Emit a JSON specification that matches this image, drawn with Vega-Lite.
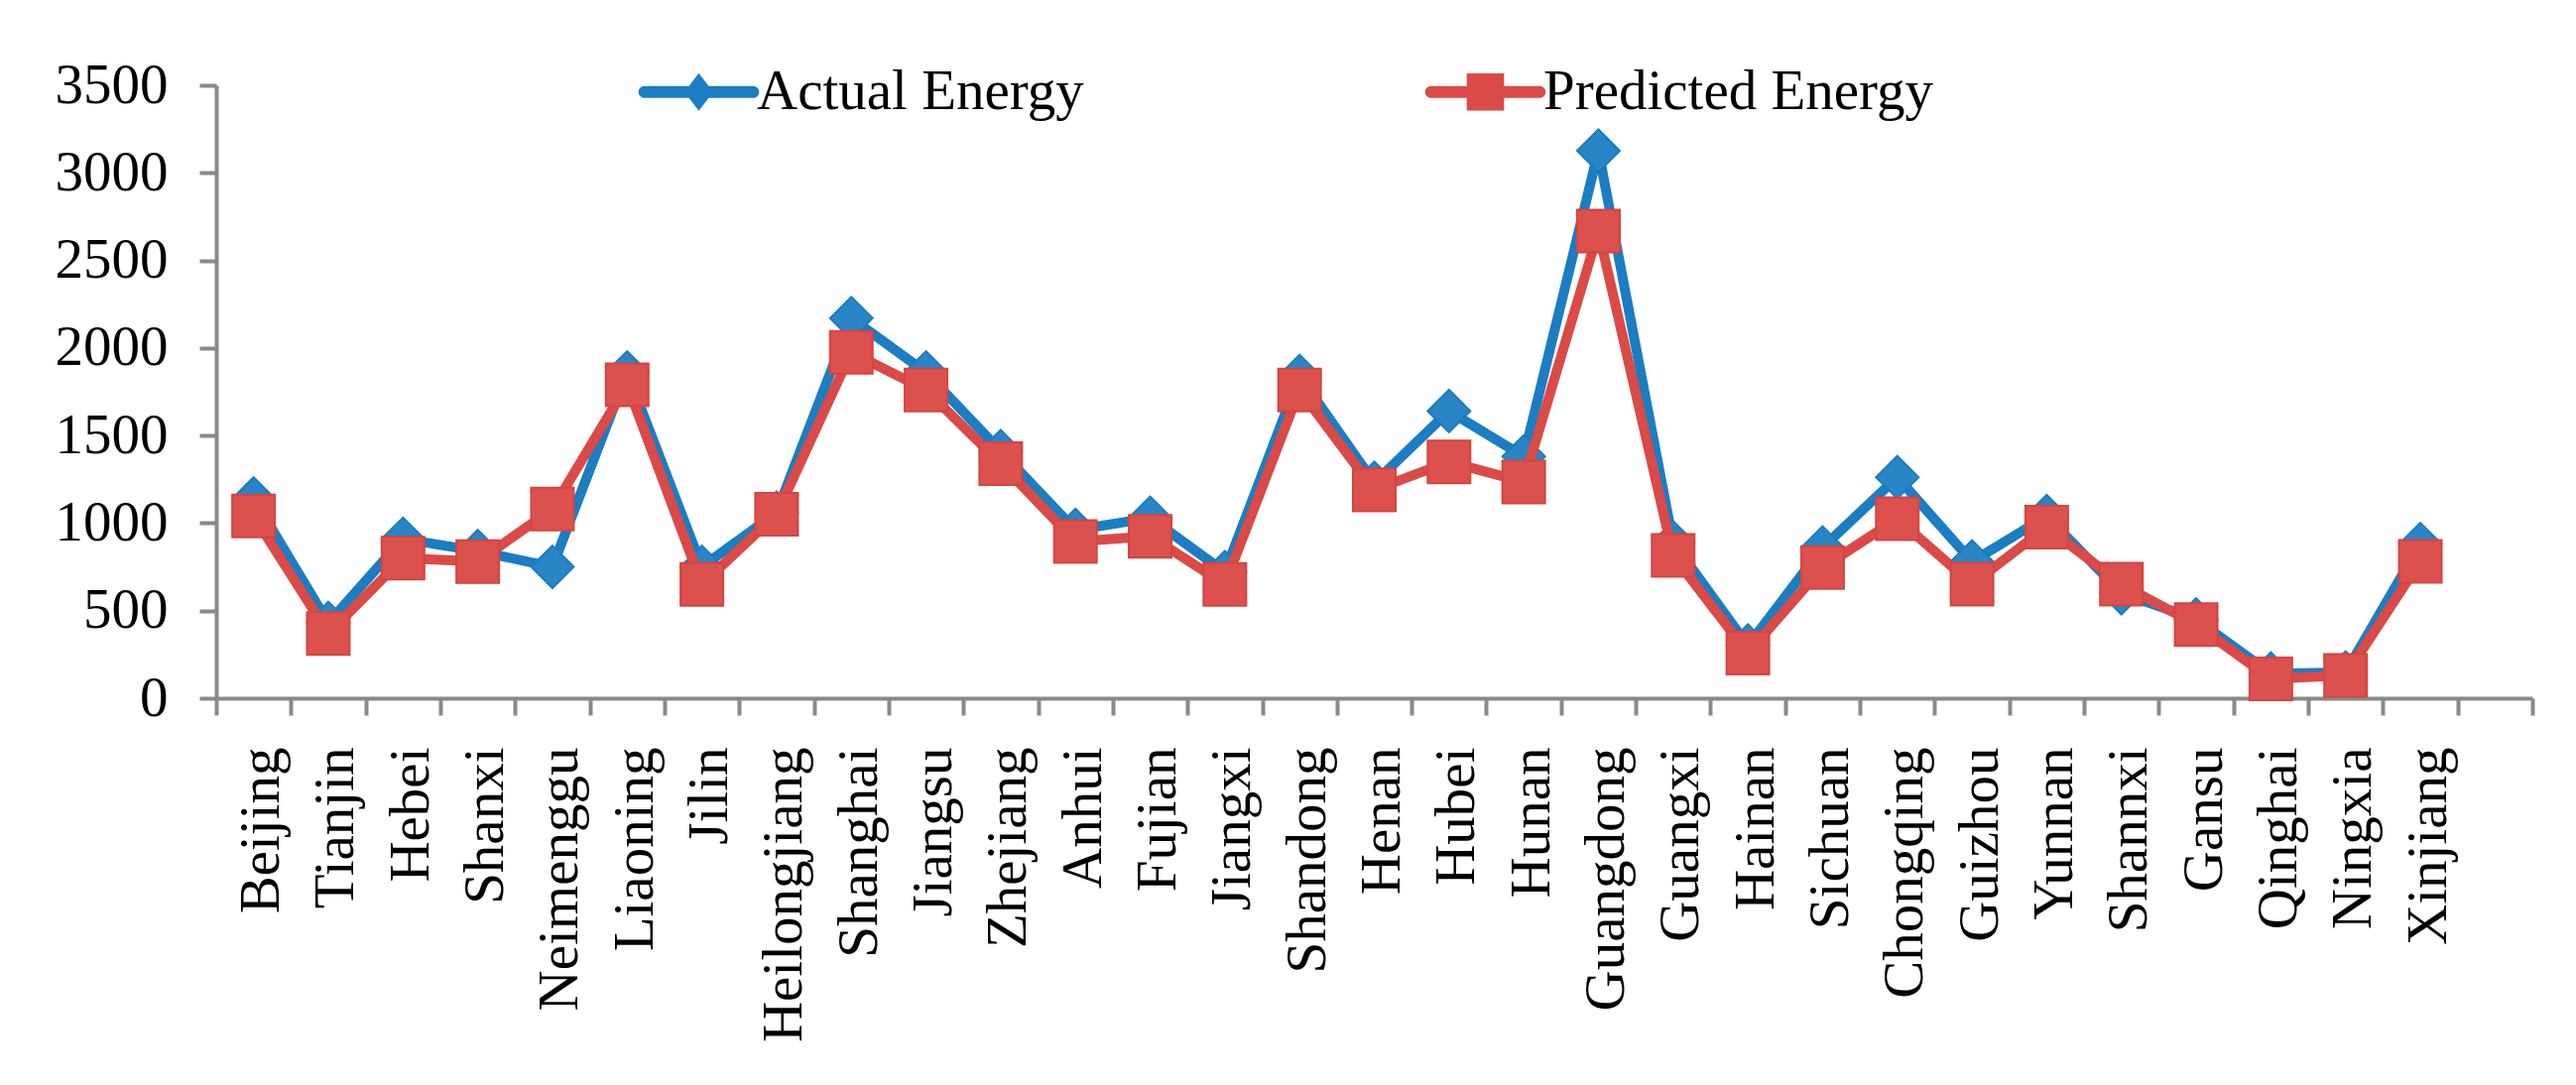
{
  "$schema": "https://vega.github.io/schema/vega-lite/v6.json",
  "width": 2335,
  "height": 618,
  "autosize": "none",
  "padding": {"left": 218, "top": 86, "right": 44, "bottom": 390},
  "background": "white",
  "config": {
    "view": {"stroke": null},
    "font": "Liberation Serif",
    "axis": {
      "labelFont": "Liberation Serif",
      "labelFontSize": 57,
      "labelColor": "#000000",
      "labelLimit": 0,
      "domainColor": "#898989",
      "domainWidth": 4,
      "tickColor": "#898989",
      "tickWidth": 4,
      "tickSize": 17,
      "labelPadding": 32,
      "grid": false,
      "title": null
    }
  },
  "data": {
    "values": [
      {"region": "Beijing", "series": "Actual Energy", "value": 1140},
      {"region": "Tianjin", "series": "Actual Energy", "value": 430},
      {"region": "Hebei", "series": "Actual Energy", "value": 910},
      {"region": "Shanxi", "series": "Actual Energy", "value": 840},
      {"region": "Neimenggu", "series": "Actual Energy", "value": 750},
      {"region": "Liaoning", "series": "Actual Energy", "value": 1860},
      {"region": "Jilin", "series": "Actual Energy", "value": 750},
      {"region": "Heilongjiang", "series": "Actual Energy", "value": 1060},
      {"region": "Shanghai", "series": "Actual Energy", "value": 2170},
      {"region": "Jiangsu", "series": "Actual Energy", "value": 1860},
      {"region": "Zhejiang", "series": "Actual Energy", "value": 1410},
      {"region": "Anhui", "series": "Actual Energy", "value": 960},
      {"region": "Fujian", "series": "Actual Energy", "value": 1030},
      {"region": "Jiangxi", "series": "Actual Energy", "value": 720},
      {"region": "Shandong", "series": "Actual Energy", "value": 1840},
      {"region": "Henan", "series": "Actual Energy", "value": 1230},
      {"region": "Hubei", "series": "Actual Energy", "value": 1640},
      {"region": "Hunan", "series": "Actual Energy", "value": 1380},
      {"region": "Guangdong", "series": "Actual Energy", "value": 3126},
      {"region": "Guangxi", "series": "Actual Energy", "value": 890},
      {"region": "Hainan", "series": "Actual Energy", "value": 300},
      {"region": "Sichuan", "series": "Actual Energy", "value": 860},
      {"region": "Chongqing", "series": "Actual Energy", "value": 1262},
      {"region": "Guizhou", "series": "Actual Energy", "value": 780},
      {"region": "Yunnan", "series": "Actual Energy", "value": 1040},
      {"region": "Shannxi", "series": "Actual Energy", "value": 600},
      {"region": "Gansu", "series": "Actual Energy", "value": 450},
      {"region": "Qinghai", "series": "Actual Energy", "value": 140},
      {"region": "Ningxia", "series": "Actual Energy", "value": 147},
      {"region": "Xinjiang", "series": "Actual Energy", "value": 880},
      {"region": "Beijing", "series": "Predicted Energy", "value": 1040},
      {"region": "Tianjin", "series": "Predicted Energy", "value": 370},
      {"region": "Hebei", "series": "Predicted Energy", "value": 800},
      {"region": "Shanxi", "series": "Predicted Energy", "value": 780},
      {"region": "Neimenggu", "series": "Predicted Energy", "value": 1080},
      {"region": "Liaoning", "series": "Predicted Energy", "value": 1790},
      {"region": "Jilin", "series": "Predicted Energy", "value": 650},
      {"region": "Heilongjiang", "series": "Predicted Energy", "value": 1050},
      {"region": "Shanghai", "series": "Predicted Energy", "value": 1975},
      {"region": "Jiangsu", "series": "Predicted Energy", "value": 1760},
      {"region": "Zhejiang", "series": "Predicted Energy", "value": 1340},
      {"region": "Anhui", "series": "Predicted Energy", "value": 895},
      {"region": "Fujian", "series": "Predicted Energy", "value": 925},
      {"region": "Jiangxi", "series": "Predicted Energy", "value": 650},
      {"region": "Shandong", "series": "Predicted Energy", "value": 1760},
      {"region": "Henan", "series": "Predicted Energy", "value": 1190},
      {"region": "Hubei", "series": "Predicted Energy", "value": 1350},
      {"region": "Hunan", "series": "Predicted Energy", "value": 1235},
      {"region": "Guangdong", "series": "Predicted Energy", "value": 2667},
      {"region": "Guangxi", "series": "Predicted Energy", "value": 815},
      {"region": "Hainan", "series": "Predicted Energy", "value": 258},
      {"region": "Sichuan", "series": "Predicted Energy", "value": 746},
      {"region": "Chongqing", "series": "Predicted Energy", "value": 1025},
      {"region": "Guizhou", "series": "Predicted Energy", "value": 651},
      {"region": "Yunnan", "series": "Predicted Energy", "value": 977},
      {"region": "Shannxi", "series": "Predicted Energy", "value": 651},
      {"region": "Gansu", "series": "Predicted Energy", "value": 420},
      {"region": "Qinghai", "series": "Predicted Energy", "value": 110},
      {"region": "Ningxia", "series": "Predicted Energy", "value": 130},
      {"region": "Xinjiang", "series": "Predicted Energy", "value": 781}
    ]
  },
  "encoding": {
    "x": {
      "field": "region",
      "type": "nominal",
      "scale": {
        "type": "band",
        "paddingInner": 0,
        "paddingOuter": 0,
        "domain": ["Beijing", "Tianjin", "Hebei", "Shanxi", "Neimenggu", "Liaoning", "Jilin", "Heilongjiang", "Shanghai", "Jiangsu", "Zhejiang", "Anhui", "Fujian", "Jiangxi", "Shandong", "Henan", "Hubei", "Hunan", "Guangdong", "Guangxi", "Hainan", "Sichuan", "Chongqing", "Guizhou", "Yunnan", "Shannxi", "Gansu", "Qinghai", "Ningxia", "Xinjiang", " "]
      },
      "axis": {"labelAngle": 270, "tickBand": "extent", "labelOffset": 8, "title": null}
    },
    "y": {
      "field": "value",
      "type": "quantitative",
      "scale": {"domain": [0, 3500], "nice": false},
      "axis": {"values": [0, 500, 1000, 1500, 2000, 2500, 3000, 3500], "format": "d", "title": null}
    },
    "color": {
      "field": "series",
      "type": "nominal",
      "scale": {"domain": ["Actual Energy", "Predicted Energy"], "range": ["#1b7dc2", "#da4a47"]},
      "legend": {
        "title": null,
        "orient": "none",
        "direction": "horizontal",
        "legendX": 416,
        "legendY": -22,
        "padding": 0,
        "labelFont": "Liberation Serif",
        "labelFontSize": 57,
        "labelColor": "#000000",
        "labelLimit": 0,
        "symbolOffset": 42,
        "labelOffset": 30,
        "columnPadding": 334,
        "symbolStrokeWidth": 0,
        "encode": {
          "symbols": {
            "update": {
              "shape": {"signal": "datum.value === 'Actual Energy' ? 'M-2.88,-0.32L2.88,-0.32A0.32,0.32,0,0,1,2.88,0.32L-2.88,0.32A0.32,0.32,0,0,1,-2.88,-0.32ZM0,-1L0.76,0L0,1L-0.76,0Z' : 'M-2.88,-0.32L2.88,-0.32A0.32,0.32,0,0,1,2.88,0.32L-2.88,0.32A0.32,0.32,0,0,1,-2.88,-0.32ZM-0.99,-0.99L0.99,-0.99L0.99,0.99L-0.99,0.99Z'"},
              "size": {"value": 1444},
              "strokeWidth": {"value": 0},
              "opacity": {"value": 1}
            }
          }
        }
      }
    }
  },
  "layer": [
    {
      "transform": [{"filter": "datum.series === 'Actual Energy'"}],
      "mark": {"type": "line", "strokeWidth": 10, "strokeJoin": "round", "strokeCap": "round"}
    },
    {
      "transform": [{"filter": "datum.series === 'Actual Energy'"}],
      "mark": {"type": "point", "filled": true, "shape": "diamond", "size": 1849, "opacity": 1, "fill": "#2a85c6", "stroke": "#1a7cc1", "strokeWidth": 2}
    },
    {
      "transform": [{"filter": "datum.series === 'Predicted Energy'"}],
      "mark": {"type": "line", "strokeWidth": 10, "strokeJoin": "round", "strokeCap": "round"}
    },
    {
      "transform": [{"filter": "datum.series === 'Predicted Energy'"}],
      "mark": {"type": "point", "filled": true, "shape": "square", "size": 1849, "opacity": 1, "fill": "#dc504d", "stroke": "#d4453f", "strokeWidth": 2}
    }
  ]
}
